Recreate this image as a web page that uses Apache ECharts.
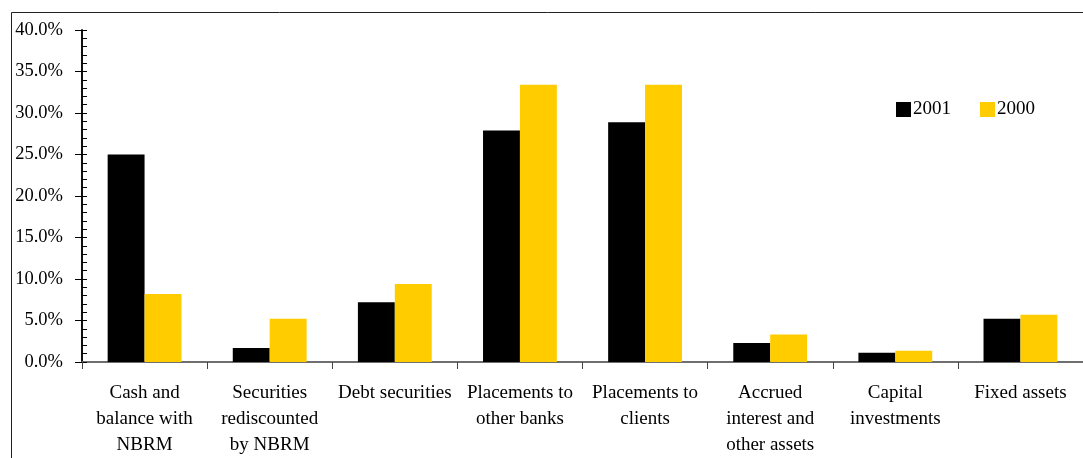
<!DOCTYPE html>
<html>
<head>
<meta charset="utf-8">
<script src="https://cdn.jsdelivr.net/npm/echarts@6/dist/echarts.min.js"></script>
<style>
html,body{margin:0;padding:0;background:#fff;}
#c{width:1083px;height:458px;}
</style>
</head>
<body>
<div id="c"></div>
<script>
var categories = [
  "Cash and\nbalance with\nNBRM",
  "Securities\nrediscounted\nby NBRM",
  "Debt securities",
  "Placements to\nother banks",
  "Placements to\nclients",
  "Accrued\ninterest and\nother assets",
  "Capital\ninvestments",
  "Fixed assets"
];
var values2001 = [25.0, 1.7, 7.2, 27.9, 28.9, 2.3, 1.1, 5.2];
var values2000 = [8.2, 5.2, 9.4, 33.4, 33.4, 3.3, 1.35, 5.7];
var seriesNames = ["2001", "2000"];

var FONT = "'Liberation Serif','Times New Roman',serif";
var chart = echarts.init(document.getElementById('c'));
chart.setOption({
  backgroundColor: '#ffffff',
  animation: false,
  graphic: [{
    type: 'rect', z: -1,
    shape: { x: 11.5, y: 12.5, width: 1200, height: 600 },
    style: { fill: 'none', stroke: '#222', lineWidth: 1 }
  }],
  legend: {
    data: seriesNames,
    left: 896, top: 100, padding: 0,
    itemWidth: 15, itemHeight: 15, itemGap: 29,
    icon: 'rect',
    textStyle: { fontFamily: FONT, fontSize: 19, color: '#000', padding: [0,0,0,-3] }
  },
  grid: { left: 82, right: -1, top: 30, bottom: 95, containLabel: false },
  xAxis: [{
    type: 'category', data: categories,
    axisLine: { lineStyle: { color: '#000', width: 1.5 } },
    axisTick: { show: true, length: 7, lineStyle: { color: '#444' } },
    axisLabel: { interval: 0, fontFamily: FONT, fontSize: 19, color: '#000', lineHeight: 26, margin: 18, align: 'center' }
  }, {
    type: 'category', data: categories, position: 'top',
    axisLine: { lineStyle: { color: '#808080', width: 1.5 } },
    axisTick: { show: false }, axisLabel: { show: false }
  }],
  yAxis: [{
    type: 'value', min: 0, max: 40, interval: 5,
    axisLine: { show: true, lineStyle: { color: '#000', width: 1.5 } },
    axisTick: { show: true, length: 7, lineStyle: { color: '#000' } },
    splitLine: { show: false },
    axisLabel: { fontFamily: FONT, fontSize: 18.5, color: '#000', margin: 19,
      formatter: function (v) { return v.toFixed(1) + '%'; } }
  }, {
    type: 'value', min: 0, max: 40, interval: 1, position: 'left',
    axisLine: { show: true, lineStyle: { color: '#000', width: 1.5 } },
    axisTick: { show: true, inside: true, length: 5, lineStyle: { color: '#000' } },
    splitLine: { show: false },
    axisLabel: { show: false }
  }],
  series: [{
    name: seriesNames[0], type: 'bar', data: values2001,
    itemStyle: { color: '#000000' }, barGap: '0%', barCategoryGap: '41%'
  }, {
    name: seriesNames[1], type: 'bar', data: values2000,
    itemStyle: { color: '#FFCC00' }, barGap: '0%', barCategoryGap: '41%'
  }]
});
</script>
</body>
</html>
